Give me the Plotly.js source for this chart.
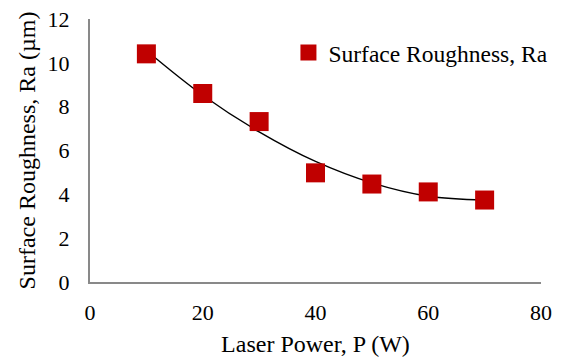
<!DOCTYPE html>
<html>
<head>
<meta charset="utf-8">
<script src="https://cdn.plot.ly/plotly-3.0.1.min.js"></script>
<style>html,body{margin:0;padding:0;background:#fff;}#chart{width:563px;height:360px;}</style>
</head>
<body>
<div id="chart"></div>
<script>
// Data
const laserPower = [10, 20, 30, 40, 50, 60, 70];
const roughness = [10.41, 8.60, 7.32, 4.98, 4.47, 4.11, 3.74];
// Polynomial (order 2) trendline values
const trendX = [10, 20, 30, 40, 50, 60, 70];
const trendY = [10.56, 8.52, 6.85, 5.50, 4.52, 3.91, 3.74];
const xTicks = [0, 20, 40, 60, 80];
const yTicks = [0, 2, 4, 6, 8, 10, 12];

const font = 'Liberation Serif, Times New Roman, serif';
const axisColor = '#898989';

const traces = [
  {
    x: trendX, y: trendY, type: 'scatter', mode: 'lines',
    line: {color: '#000000', width: 1.4, shape: 'spline', smoothing: 1},
    showlegend: false, hoverinfo: 'skip'
  },
  {
    x: laserPower, y: roughness, type: 'scatter', mode: 'markers',
    name: 'Surface Roughness, Ra',
    marker: {symbol: 'square', size: 19, color: '#C00000', line: {width: 0}}
  }
];

const layout = {
  width: 563, height: 360,
  margin: {l: 90, r: 22, t: 19, b: 78, autoexpand: false},
  paper_bgcolor: '#ffffff', plot_bgcolor: '#ffffff',
  font: {family: font, size: 22, color: '#000000'},
  showlegend: true,
  legend: {x: 0.44, y: 0.955, xanchor: 'left', yanchor: 'top',
    font: {family: font, size: 23.5, color: '#000000'}, bgcolor: 'rgba(0,0,0,0)', itemwidth: 30},
  xaxis: {
    range: [0, 80], tickvals: xTicks, ticktext: xTicks.map(String),
    showgrid: false, zeroline: false, showline: true, linecolor: axisColor, linewidth: 2,
    ticks: '', tickfont: {family: font, size: 22}, ticklabelstandoff: 10, automargin: false,
    title: {text: 'Laser Power, P (W)', font: {family: font, size: 24}, standoff: 11}
  },
  yaxis: {
    range: [0, 12], tickvals: yTicks, ticktext: yTicks.map(String),
    showgrid: false, zeroline: false, showline: true, linecolor: axisColor, linewidth: 2,
    ticks: '', tickfont: {family: font, size: 22}, ticklabelstandoff: 14, automargin: false,
    title: {text: 'Surface Roughness, Ra (µm)', font: {family: font, size: 24}, standoff: 5}
  }
};

Plotly.newPlot('chart', traces, layout, {displayModeBar: false, staticPlot: true});
</script>
</body>
</html>
